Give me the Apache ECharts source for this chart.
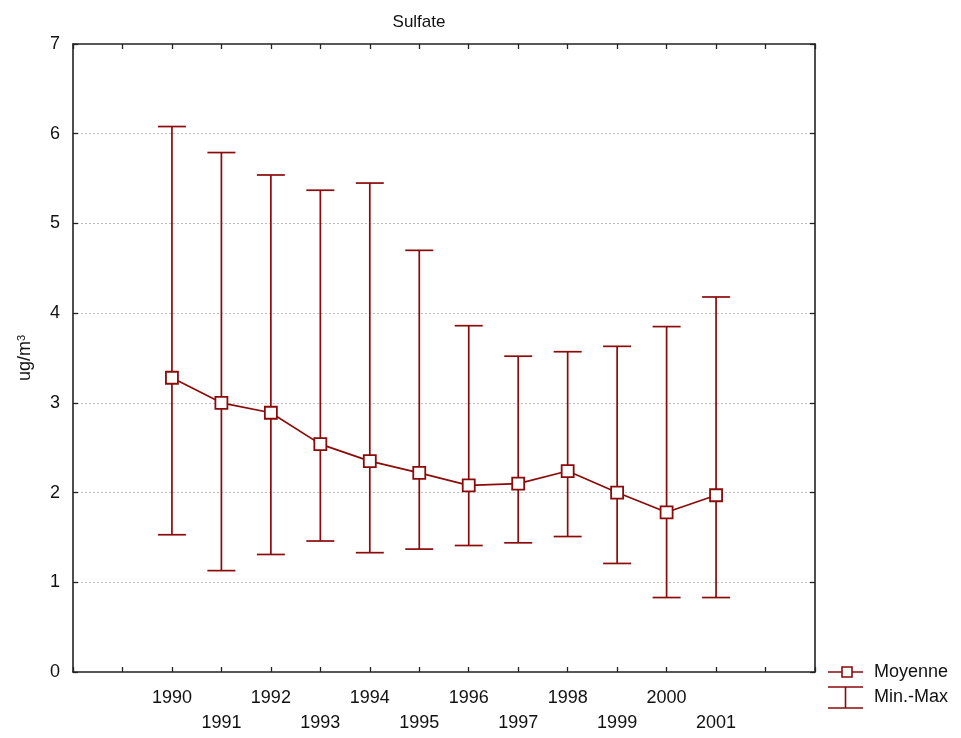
<!DOCTYPE html>
<html>
<head>
<meta charset="utf-8">
<script src="https://cdn.jsdelivr.net/npm/echarts@6/dist/echarts.min.js"></script>
<style>
  html, body { margin: 0; padding: 0; background: #fff; }
  #chart { width: 961px; height: 738px; }
</style>
</head>
<body>
<div id="chart"></div>
<script>
// Annual sulfate concentrations (ug/m3): mean with min and max
const years   = [1990, 1991, 1992, 1993, 1994, 1995, 1996, 1997, 1998, 1999, 2000, 2001];
const moyenne = [3.28, 3.00, 2.89, 2.54, 2.35, 2.22, 2.08, 2.10, 2.24, 2.00, 1.78, 1.97];
const minimum = [1.53, 1.13, 1.31, 1.46, 1.33, 1.37, 1.41, 1.44, 1.51, 1.21, 0.83, 0.83];
const maximum = [6.08, 5.79, 5.54, 5.37, 5.45, 4.70, 3.86, 3.52, 3.57, 3.63, 3.85, 4.18];
const yTicks  = [0, 1, 2, 3, 4, 5, 6, 7];

const RED = '#8b0a0a';
const FONT = 'Liberation Sans, Arial, sans-serif';

const meanData = years.map((y, i) => [y, moyenne[i]]);
const rangeData = years.map((y, i) => [y, minimum[i], maximum[i]]);

const chart = echarts.init(document.getElementById('chart'));

const frameAxisX = {
  type: 'value', min: 1988, max: 2003, interval: 1,
  axisLine: { show: true, onZero: false, lineStyle: { color: '#222', width: 1.6 } },
  axisTick: { show: true, inside: true, length: 5, lineStyle: { color: '#222', width: 1.3 } },
  splitLine: { show: false }
};
const frameAxisY = {
  type: 'value', min: yTicks[0], max: yTicks[yTicks.length - 1], interval: 1,
  axisLine: { show: true, onZero: false, lineStyle: { color: '#222', width: 1.6 } },
  axisTick: { show: true, inside: true, length: 5, lineStyle: { color: '#222', width: 1.3 } }
};

chart.setOption({
  animation: false,
  backgroundColor: '#fff',
  title: {
    text: 'Sulfate', left: 414, top: 9, textAlign: 'center',
    textStyle: { fontFamily: FONT, fontSize: 17, fontWeight: 'normal', color: '#111' }
  },
  grid: { left: 73, right: 146, top: 44, bottom: 66 },
  xAxis: [
    Object.assign({}, frameAxisX, {
      position: 'bottom',
      axisLabel: {
        show: true, margin: 14, fontFamily: FONT, fontSize: 18, color: '#111', lineHeight: 25,
        formatter: function (v) {
          if (v < years[0] || v > years[years.length - 1]) return '';
          return (v % 2 === 0) ? String(v) : '\n' + v;
        }
      }
    }),
    Object.assign({}, frameAxisX, { position: 'top', axisLabel: { show: false } })
  ],
  yAxis: [
    Object.assign({}, frameAxisY, {
      position: 'left',
      name: '{n|ug/m}{s|3}', nameLocation: 'middle', nameRotate: 90, nameGap: 38,
      nameTextStyle: {
        rich: {
          n: { fontFamily: FONT, fontSize: 18, color: '#111' },
          s: { fontFamily: FONT, fontSize: 11, color: '#111', verticalAlign: 'top', padding: [0, 0, 8, 0] }
        }
      },
      axisLabel: { margin: 13, fontFamily: FONT, fontSize: 18, color: '#111' },
      splitLine: { show: true, showMinLine: false, showMaxLine: false, lineStyle: { color: '#bdbdbd', type: [2, 2], width: 1 } }
    }),
    Object.assign({}, frameAxisY, {
      position: 'right', axisLabel: { show: false }, splitLine: { show: false }
    })
  ],
  series: [
    {
      name: 'Min.-Max',
      type: 'custom',
      xAxisIndex: 0, yAxisIndex: 0,
      data: rangeData,
      encode: { x: 0, y: [1, 2] },
      renderItem: function (params, api) {
        const x = api.value(0);
        const lo = api.coord([x, api.value(1)]);
        const hi = api.coord([x, api.value(2)]);
        const half = 14;
        const style = { stroke: RED, lineWidth: 1.7, fill: null };
        return {
          type: 'group',
          children: [
            { type: 'line', shape: { x1: lo[0], y1: lo[1], x2: hi[0], y2: hi[1] }, style: style },
            { type: 'line', shape: { x1: hi[0] - half, y1: hi[1], x2: hi[0] + half, y2: hi[1] }, style: style },
            { type: 'line', shape: { x1: lo[0] - half, y1: lo[1], x2: lo[0] + half, y2: lo[1] }, style: style }
          ]
        };
      },
      z: 2
    },
    {
      name: 'Moyenne',
      type: 'line',
      xAxisIndex: 0, yAxisIndex: 0,
      data: meanData,
      symbol: 'rect', symbolSize: 12,
      lineStyle: { color: RED, width: 1.7 },
      itemStyle: { color: '#fff', borderColor: RED, borderWidth: 1.8 },
      z: 3
    }
  ],
  graphic: [
    // legend: Moyenne
    { type: 'line', shape: { x1: 828, y1: 672, x2: 863, y2: 672 }, style: { stroke: RED, lineWidth: 1.6 } },
    { type: 'rect', shape: { x: 842, y: 667, width: 10, height: 10 }, style: { fill: '#fff', stroke: RED, lineWidth: 1.6 } },
    { type: 'text', x: 874, y: 672, style: { text: 'Moyenne', fontFamily: FONT, fontSize: 18, fill: '#111', verticalAlign: 'middle' } },
    // legend: Min.-Max
    { type: 'line', shape: { x1: 828, y1: 687, x2: 863, y2: 687 }, style: { stroke: RED, lineWidth: 1.6 } },
    { type: 'line', shape: { x1: 828, y1: 708, x2: 863, y2: 708 }, style: { stroke: RED, lineWidth: 1.6 } },
    { type: 'line', shape: { x1: 845.5, y1: 687, x2: 845.5, y2: 708 }, style: { stroke: RED, lineWidth: 1.6 } },
    { type: 'text', x: 874, y: 697, style: { text: 'Min.-Max', fontFamily: FONT, fontSize: 18, fill: '#111', verticalAlign: 'middle' } }
  ]
});
</script>
</body>
</html>
